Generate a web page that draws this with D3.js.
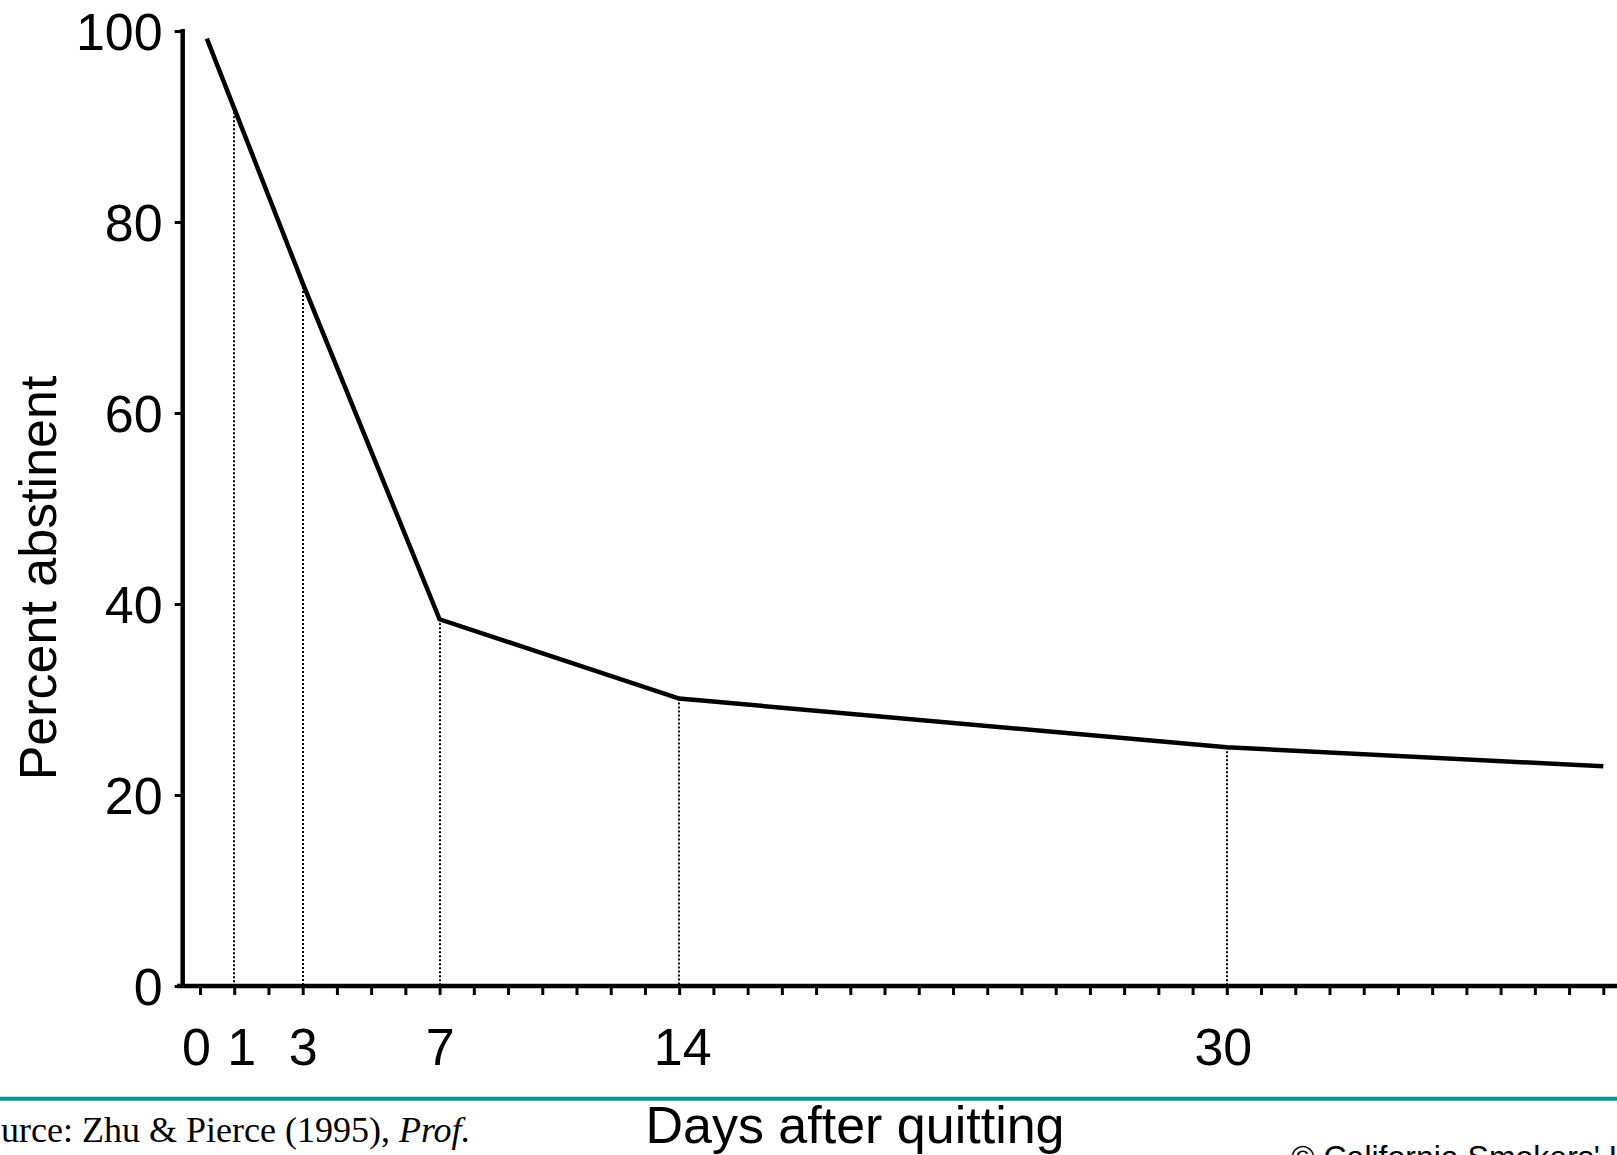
<!DOCTYPE html>
<html>
<head>
<meta charset="utf-8">
<script src="https://cdn.jsdelivr.net/npm/d3@7"></script>
<style>
  html, body { margin: 0; padding: 0; background: #fff; overflow: hidden; }
  svg { display: block; }
</style>
</head>
<body>
<script>
// ---- data ----
const days = [0.2, 1, 3, 7, 14, 30, 41];
const percentAbstinent = [99.2, 91.9, 73.6, 38.4, 30.1, 25.0, 23.0];
const markedDays = [1, 3, 7, 14, 30];
const xTickLabels = [0, 1, 3, 7, 14, 30];
const yTickValues = [0, 20, 40, 60, 80, 100];
const xMinorTicks = d3.range(0, 42);
const yTitle = "Percent abstinent";
const xTitle = "Days after quitting";
const sourceText = "Source: Zhu & Pierce (1995), ";
const sourceItalic = "Prof.";
const copyrightText = "\u00A9 California Smokers' Helpline";

const W = 1617, H = 1155;
const sans = "'Liberation Sans', Arial, Helvetica, sans-serif";
const serif = "'Liberation Serif', 'Times New Roman', serif";

const svg = d3.select("body").append("svg")
  .attr("width", W).attr("height", H)
  .attr("viewBox", `0 0 ${W} ${H}`);

const x = d3.scaleLinear().domain([0, 41]).range([200, 1603.3]);
const y = d3.scaleLinear().domain([0, 100]).range([986, 31]);
const axisX0 = 182.7;

const pts = days.map((d, i) => ({ d, v: percentAbstinent[i] }));
const lookup = new Map(pts.map(p => [p.d, p.v]));

// dotted drop lines
svg.append("g").selectAll("line")
  .data(markedDays)
  .join("line")
  .attr("x1", d => Math.round(x(d))).attr("x2", d => Math.round(x(d)))
  .attr("y1", d => y(lookup.get(d)))
  .attr("y2", y(0))
  .attr("stroke", "#000")
  .attr("stroke-width", 2)
  .attr("stroke-dasharray", "2,2");

// main line
svg.append("path")
  .datum(pts)
  .attr("fill", "none")
  .attr("stroke", "#000")
  .attr("stroke-width", 4.5)
  .attr("stroke-linejoin", "miter")
  .attr("d", d3.line().x(p => x(p.d)).y(p => y(p.v)));

// y axis
const yAxis = svg.append("g")
  .attr("transform", `translate(${axisX0},0)`)
  .call(d3.axisLeft(y).tickValues(yTickValues).tickSize(8).tickPadding(12).tickSizeOuter(0));
yAxis.select(".domain").attr("stroke", "#000").attr("stroke-width", 4.5)
  .attr("d", `M0,${y(100) - 2}V${y(0) + 2}`);
yAxis.selectAll(".tick line").attr("stroke", "#000").attr("stroke-width", 3);
yAxis.selectAll(".tick text")
  .attr("font-family", sans).attr("font-size", 52).attr("fill", "#000")
  .attr("x", -20).attr("dy", "0.35em");

// x axis: minor ticks
const xAxisMinor = svg.append("g")
  .attr("transform", `translate(0,${y(0)})`)
  .call(d3.axisBottom(x).tickValues(xMinorTicks).tickFormat("").tickSize(9).tickSizeOuter(0));
xAxisMinor.select(".domain").attr("stroke", "#000").attr("stroke-width", 4.5)
  .attr("d", `M177,0H${W + 5}`);
xAxisMinor.selectAll(".tick line").attr("stroke", "#000").attr("stroke-width", 3);

// x axis labels
const labelNudge = { 0: -4, 1: 7, 14: 3, 30: -4 };
const xAxisLab = svg.append("g")
  .attr("transform", `translate(0,${y(0)})`)
  .call(d3.axisBottom(x).tickValues(xTickLabels).tickSize(0).tickFormat(d3.format("d")));
xAxisLab.select(".domain").remove();
xAxisLab.selectAll(".tick text")
  .attr("font-family", sans).attr("font-size", 52).attr("fill", "#000")
  .attr("y", 79).attr("dy", 0)
  .attr("dx", d => labelNudge[d] || 0);

// y title
svg.append("text")
  .attr("transform", "translate(56,578) rotate(-90)")
  .attr("text-anchor", "middle")
  .attr("font-family", sans).attr("font-size", 52).attr("fill", "#000")
  .text(yTitle);

// teal rule
svg.append("line")
  .attr("x1", 0).attr("x2", W)
  .attr("y1", 1098.7).attr("y2", 1098.7)
  .attr("stroke", "#009999").attr("stroke-width", 4);

// x title
svg.append("text")
  .attr("x", 855).attr("y", 1143)
  .attr("text-anchor", "middle")
  .attr("font-family", sans).attr("font-size", 52).attr("fill", "#000")
  .text(xTitle);

// source
const src = svg.append("text")
  .attr("x", -37).attr("y", 1142)
  .attr("font-family", serif).attr("font-size", 36).attr("fill", "#000");
src.append("tspan").text(sourceText);
src.append("tspan").attr("font-style", "italic").text(sourceItalic);

// copyright
svg.append("text")
  .attr("x", 1291).attr("y", 1168)
  .attr("font-family", sans).attr("font-size", 32).attr("fill", "#000")
  .text(copyrightText);
</script>
</body>
</html>
